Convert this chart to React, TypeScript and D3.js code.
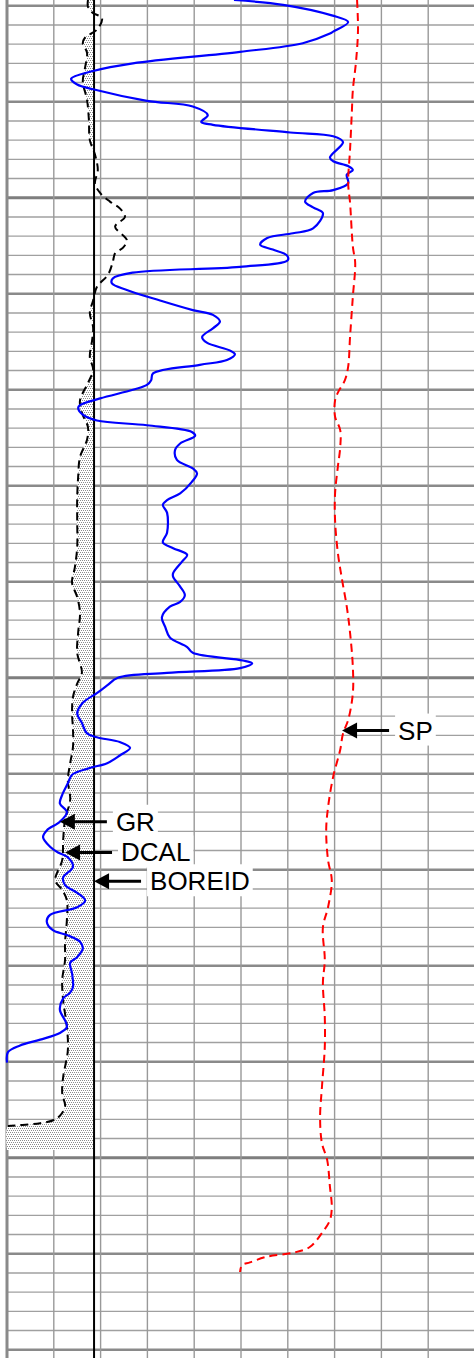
import React, { useEffect, useRef } from "react";
import * as d3 from "d3";

const WIDTH = 474;
const HEIGHT = 1358;

// Depth window (ft) and track scale (grid units, 10 divisions)
const DEPTH_TOP = 1029.4;
const DEPTH_BOTTOM = 1170.86;
const TRACK_MIN = 0;
const TRACK_MAX = 100;
const LOG_BOTTOM = 1149.2;
const BOREID = 18.6;

const DEPTH_GRID = d3.range(1030, 1171, 2);
const TRACK_GRID = d3.range(0, 101, 10);

// [depth, value]
const GR: [number, number][] = [
  [1029.4, 48.5], [1029.9, 59.0], [1031.0, 69.4], [1031.7, 72.9], [1032.7, 69.7], [1032.9, 69.0],
  [1033.9, 63.2], [1034.8, 49.8], [1036.0, 26.9], [1036.8, 18.4], [1037.6, 13.7], [1038.2, 15.0],
  [1038.7, 18.4], [1039.9, 29.9], [1040.5, 39.7], [1041.4, 42.9], [1042.1, 41.5], [1042.4, 44.0],
  [1043.2, 60.5], [1043.6, 69.7], [1044.2, 71.8], [1045.8, 69.0], [1046.2, 69.7], [1046.7, 72.9],
  [1047.1, 73.9], [1047.6, 72.6], [1048.5, 72.9], [1049.2, 69.7], [1049.5, 65.4], [1050.4, 63.7],
  [1051.0, 65.4], [1051.6, 67.5], [1053.2, 65.4], [1053.7, 61.1], [1054.2, 55.6], [1054.9, 54.1],
  [1055.4, 56.8], [1056.0, 59.8], [1056.5, 60.0], [1057.2, 49.8], [1057.8, 26.9], [1058.4, 22.6],
  [1058.9, 22.4], [1059.6, 25.6], [1060.7, 32.7], [1061.7, 39.7], [1062.2, 44.0], [1062.9, 45.5],
  [1063.6, 44.0], [1064.5, 41.7], [1065.1, 42.7], [1065.9, 47.6], [1066.3, 48.7], [1066.9, 47.0],
  [1067.4, 41.2], [1068.3, 31.2], [1069.0, 30.8], [1069.5, 29.9], [1070.0, 26.9], [1070.9, 19.9],
  [1071.6, 15.6], [1071.9, 15.2], [1072.6, 16.2], [1073.2, 19.2], [1073.7, 29.9], [1074.4, 39.5],
  [1074.8, 40.2], [1075.6, 37.0], [1076.3, 35.9], [1077.3, 36.3], [1078.2, 39.7], [1078.7, 40.6],
  [1079.6, 39.5], [1080.8, 37.0], [1081.5, 34.2], [1082.0, 33.3], [1082.8, 34.2], [1084.9, 34.2],
  [1085.9, 33.3], [1086.5, 35.5], [1087.2, 38.5], [1087.9, 37.4], [1089.1, 35.5], [1089.5, 35.5],
  [1090.5, 37.0], [1091.4, 38.0], [1092.1, 37.0], [1092.6, 34.8], [1093.7, 33.1], [1094.7, 33.8],
  [1095.8, 34.8], [1096.8, 38.5], [1097.4, 39.7], [1098.2, 50.4], [1098.5, 52.4], [1099.0, 49.8],
  [1099.5, 34.2], [1100.0, 23.7], [1100.8, 21.4], [1101.6, 19.2], [1102.6, 16.2], [1103.7, 15.0],
  [1104.7, 16.0], [1105.8, 17.1], [1106.2, 19.2], [1106.7, 24.1], [1107.3, 26.3], [1108.1, 24.1],
  [1108.9, 21.4], [1109.4, 17.7], [1110.1, 13.9], [1111.0, 13.0], [1112.2, 11.8], [1113.1, 11.3],
  [1114.0, 12.8], [1115.0, 11.3], [1115.9, 8.5], [1116.6, 7.7], [1117.6, 9.2], [1118.2, 10.9],
  [1118.7, 13.0], [1119.7, 14.1], [1120.8, 12.0], [1121.6, 12.4], [1122.4, 15.0], [1123.2, 16.7],
  [1123.9, 15.0], [1124.7, 9.2], [1125.4, 8.5], [1126.3, 9.8], [1126.8, 12.8], [1127.5, 15.6],
  [1128.2, 16.2], [1129.1, 15.0], [1129.7, 13.5], [1130.8, 13.9], [1132.2, 14.1], [1132.8, 13.5],
  [1133.4, 12.0], [1134.6, 11.3], [1135.7, 12.4], [1136.4, 12.8], [1137.0, 11.3], [1137.7, 7.1],
  [1138.3, 2.8], [1139.0, 0.2], [1140.1, 0.0],
];

const SP: [number, number][] = [
  [1029.4, 74.8], [1032.5, 75.0], [1035.7, 74.6], [1038.8, 73.9], [1040.9, 73.7], [1045.0, 73.3],
  [1048.5, 72.9], [1050.5, 73.3], [1055.1, 73.9], [1056.8, 74.4], [1060.3, 73.9], [1064.5, 73.3],
  [1067.6, 72.9], [1069.0, 72.2], [1070.3, 70.7], [1071.1, 70.1], [1072.8, 70.1], [1074.2, 71.2],
  [1076.0, 71.2], [1078.0, 70.7], [1080.8, 70.1], [1083.6, 70.1], [1087.0, 70.7], [1089.8, 71.6],
  [1092.6, 72.6], [1095.3, 73.3], [1098.9, 73.9], [1101.6, 73.9], [1104.4, 72.9], [1105.8, 71.8],
  [1107.5, 71.2], [1110.3, 69.7], [1113.5, 68.6], [1115.9, 68.2], [1119.0, 68.6], [1121.1, 69.4],
  [1123.9, 68.6], [1126.0, 67.5], [1129.4, 67.9], [1131.8, 67.5], [1135.3, 67.9], [1138.5, 67.9],
  [1142.6, 67.3], [1145.8, 66.9], [1148.5, 67.3], [1150.2, 68.4], [1153.0, 69.0], [1155.1, 69.4],
  [1156.5, 69.0], [1157.7, 67.5], [1159.3, 64.7], [1159.9, 61.1], [1160.3, 55.6], [1160.9, 51.9],
  [1161.2, 50.2], [1161.9, 49.8],
];

const DCAL: [number, number][] = [
  [1029.4, 17.3], [1030.1, 17.3], [1030.7, 18.2], [1031.3, 20.3], [1032.5, 19.2], [1033.3, 16.7],
  [1033.9, 16.2], [1034.9, 17.1], [1036.4, 16.7], [1037.9, 16.2], [1039.8, 17.1], [1041.9, 17.5],
  [1044.0, 17.7], [1045.5, 18.8], [1047.1, 19.4], [1048.5, 18.8], [1049.5, 19.9], [1050.4, 22.0],
  [1051.1, 24.1], [1052.0, 25.2], [1053.0, 23.1], [1054.4, 25.6], [1055.2, 24.8], [1055.8, 23.1],
  [1056.7, 22.6], [1058.0, 21.6], [1059.3, 19.2], [1060.7, 18.4], [1062.0, 17.7], [1063.5, 18.4],
  [1064.8, 18.2], [1066.6, 17.7], [1067.9, 18.4], [1069.3, 17.3], [1071.1, 15.6], [1072.4, 16.0],
  [1073.9, 17.3], [1075.2, 17.1], [1077.0, 15.6], [1079.1, 15.2], [1081.2, 15.0], [1083.6, 15.0],
  [1086.4, 15.0], [1088.5, 14.5], [1090.1, 13.9], [1091.6, 15.0], [1093.3, 15.6], [1095.3, 15.2],
  [1097.4, 15.0], [1099.5, 16.0], [1100.6, 15.0], [1102.0, 14.1], [1103.7, 13.9], [1105.4, 14.1],
  [1107.2, 14.1], [1108.9, 13.5], [1110.7, 13.0], [1112.7, 13.5], [1114.8, 12.4], [1116.9, 12.0],
  [1119.0, 11.8], [1121.1, 10.3], [1122.1, 11.8], [1123.2, 12.8], [1125.2, 12.8], [1127.6, 12.4],
  [1129.4, 12.4], [1131.5, 11.8], [1133.6, 12.0], [1136.4, 12.8], [1138.8, 13.0], [1141.6, 12.0],
  [1143.3, 11.8], [1144.7, 12.4], [1145.9, 10.7], [1146.4, 7.1], [1146.6, 2.8], [1146.7, 0.2],
];

const LABELS = [
  { text: "SP", depth: 1105.5, value: 71.6 },
  { text: "GR", depth: 1115.0, value: 11.3 },
  { text: "DCAL", depth: 1118.2, value: 12.4 },
  { text: "BOREID", depth: 1121.2, value: 18.6 },
];

export default function App() {
  const ref = useRef<SVGSVGElement | null>(null);

  useEffect(() => {
    document.body.style.margin = "0";
    document.body.style.overflow = "hidden";
    const svg = d3.select(ref.current);
    svg.selectAll("*").remove();

    const x = d3.scaleLinear().domain([TRACK_MIN, TRACK_MAX]).range([7, 475]);
    const y = d3.scaleLinear().domain([DEPTH_TOP, DEPTH_BOTTOM]).range([0, HEIGHT]);

    const defs = svg.append("defs");
    const pat = defs
      .append("pattern")
      .attr("id", "stipple")
      .attr("width", 4)
      .attr("height", 4)
      .attr("patternUnits", "userSpaceOnUse");
    pat.append("rect").attr("width", 4).attr("height", 4).attr("fill", "#ffffff");
    [[0, 0], [2, 0], [1, 2], [3, 2]].forEach(([px, py]) =>
      pat.append("rect").attr("x", px).attr("y", py).attr("width", 1).attr("height", 1).attr("fill", "#8c8c8c")
    );
    defs
      .append("clipPath")
      .attr("id", "boreclip")
      .append("rect")
      .attr("x", 0)
      .attr("y", 0)
      .attr("width", x(BOREID))
      .attr("height", y(LOG_BOTTOM));

    svg.append("rect").attr("width", WIDTH).attr("height", HEIGHT).attr("fill", "#fff");

    // grid
    const grid = svg.append("g");
    grid
      .selectAll("line.h")
      .data(DEPTH_GRID)
      .join("line")
      .attr("x1", x(TRACK_MIN))
      .attr("x2", WIDTH)
      .attr("y1", (d) => y(d))
      .attr("y2", (d) => y(d))
      .attr("stroke", (d) => (d % 50 === 0 ? "#7e7e7e" : d % 10 === 0 ? "#8a8a8a" : "#a0a0a0"))
      .attr("stroke-width", (d) => (d % 50 === 0 ? 3.2 : d % 10 === 0 ? 2.4 : 1.4));
    grid
      .selectAll("line.v")
      .data(TRACK_GRID)
      .join("line")
      .attr("x1", (d) => x(d))
      .attr("x2", (d) => x(d))
      .attr("y1", 0)
      .attr("y2", HEIGHT)
      .attr("stroke", (d) => (d === 0 ? "#8a8a8a" : "#999"))
      .attr("stroke-width", (d) => (d === 0 ? 3 : 1.4));

    const curve = d3.curveCatmullRom.alpha(0.5);

    // stipple fill between caliper and bore
    const fillData: [number, number][] = [...DCAL, [LOG_BOTTOM, 0]];
    const area = d3
      .area<[number, number]>()
      .y((d) => y(d[0]))
      .x0((d) => x(d[1]))
      .x1(x(BOREID))
      .curve(curve);
    svg
      .append("path")
      .attr("d", area(fillData) as string)
      .attr("fill", "url(#stipple)")
      .attr("clip-path", "url(#boreclip)");

    // bore line
    svg
      .append("line")
      .attr("x1", x(BOREID))
      .attr("x2", x(BOREID))
      .attr("y1", 0)
      .attr("y2", HEIGHT)
      .attr("stroke", "#000")
      .attr("stroke-width", 2);

    const line = d3
      .line<[number, number]>()
      .x((d) => x(d[1]))
      .y((d) => y(d[0]))
      .curve(curve);

    svg
      .append("path")
      .attr("d", line(DCAL) as string)
      .attr("fill", "none")
      .attr("stroke", "#000")
      .attr("stroke-width", 2)
      .attr("stroke-dasharray", "8,5");

    svg
      .append("path")
      .attr("d", line(GR) as string)
      .attr("fill", "none")
      .attr("stroke", "#0000ff")
      .attr("stroke-width", 2.2);

    svg
      .append("path")
      .attr("d", line(SP) as string)
      .attr("fill", "none")
      .attr("stroke", "#ff0000")
      .attr("stroke-width", 2)
      .attr("stroke-dasharray", "8,5");

    // labels with arrows
    const lab = svg.append("g");
    LABELS.forEach((l) => {
      const tx = x(l.value);
      const ty = y(l.depth);
      const g = lab.append("g");
      const bg = g.append("rect").attr("fill", "#fff");
      const t = g
        .append("text")
        .attr("x", tx + 56)
        .attr("y", ty + 9)
        .attr("font-family", "'Liberation Sans', Arial, sans-serif")
        .attr("font-size", 26)
        .attr("fill", "#000")
        .text(l.text);
      const bb = (t.node() as SVGTextElement).getBBox();
      bg.attr("x", bb.x - 3)
        .attr("y", ty - 17)
        .attr("width", bb.width + 6)
        .attr("height", 32);
      g.append("line")
        .attr("x1", tx + 12)
        .attr("x2", tx + 47)
        .attr("y1", ty)
        .attr("y2", ty)
        .attr("stroke", "#000")
        .attr("stroke-width", 3);
      g.append("path")
        .attr("d", `M${tx},${ty}L${tx + 15},${ty - 8}L${tx + 15},${ty + 8}Z`)
        .attr("fill", "#000");
    });
  }, []);

  return (
    <svg
      ref={ref}
      width={WIDTH}
      height={HEIGHT}
      style={{ position: "absolute", left: 0, top: 0, display: "block" }}
    />
  );
}
